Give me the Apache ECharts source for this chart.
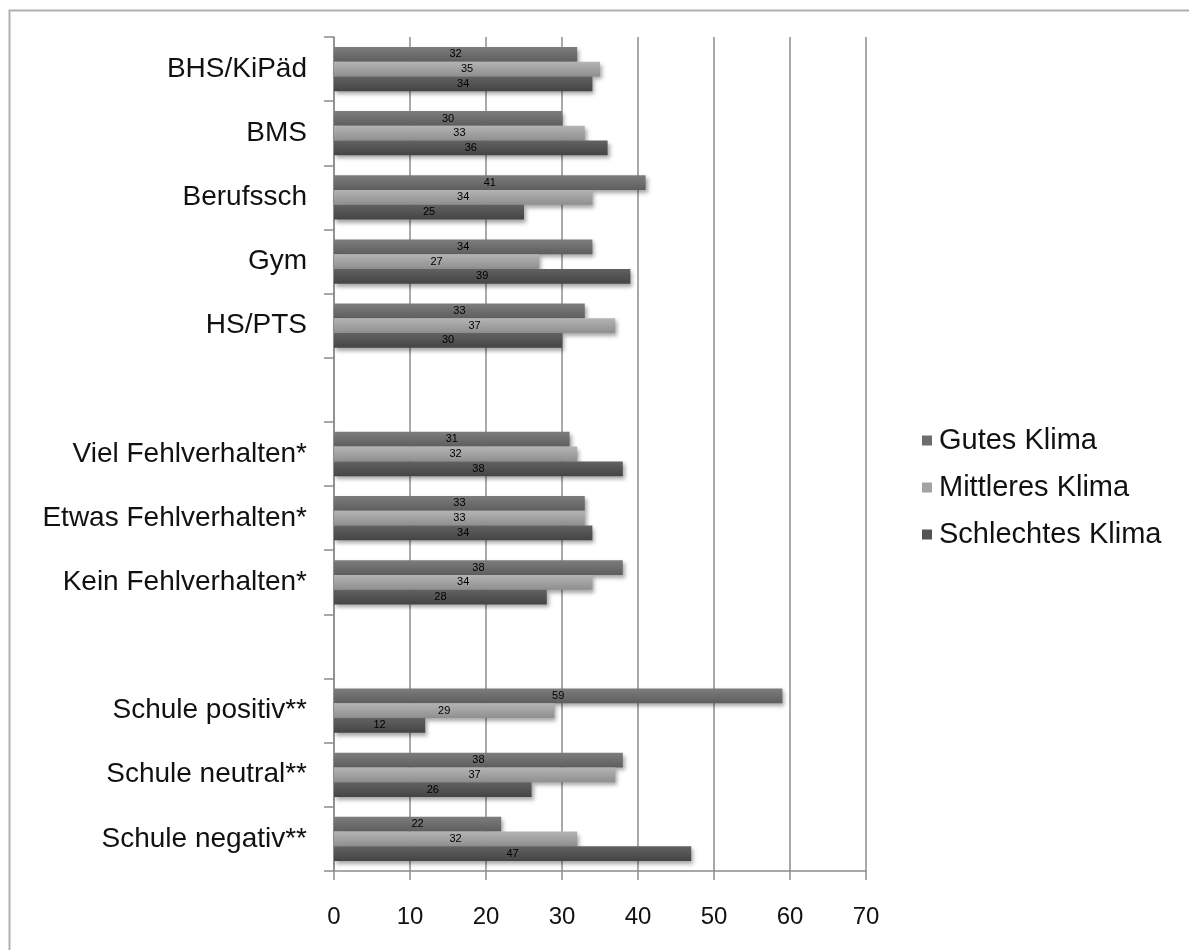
<!DOCTYPE html>
<html>
<head>
<meta charset="utf-8">
<script src="https://cdn.jsdelivr.net/npm/echarts@6/dist/echarts.min.js"></script>
<style>
  html, body { margin: 0; padding: 0; background: #ffffff; }
  #chart { width: 1189px; height: 950px; }
</style>
</head>
<body>
<div id="chart"></div>
<script>
// Categories (top to bottom); empty strings are spacer rows between the groups
const categories = [
  'BHS/KiPäd', 'BMS', 'Berufssch', 'Gym', 'HS/PTS', '',
  'Viel Fehlverhalten*', 'Etwas Fehlverhalten*', 'Kein Fehlverhalten*', '',
  'Schule positiv**', 'Schule neutral**', 'Schule negativ**'
];

// Percent values per climate group
const gutesKlima       = [32, 30, 41, 34, 33, null, 31, 33, 38, null, 59, 38, 22];
const mittleresKlima   = [35, 33, 34, 27, 37, null, 32, 33, 34, null, 29, 37, 32];
const schlechtesKlima  = [34, 36, 25, 39, 30, null, 38, 34, 28, null, 12, 26, 47];

const seriesNames = ['Gutes Klima', 'Mittleres Klima', 'Schlechtes Klima'];
const xTicks = { min: 0, max: 70, step: 10 };

const FONT = '"Liberation Sans", Arial, sans-serif';

function shade(top, bottom) {
  return new echarts.graphic.LinearGradient(0, 0, 0, 1, [
    { offset: 0, color: top },
    { offset: 1, color: bottom }
  ]);
}

const palette = [
  { bar: shade('#7d7d7d', '#5e5e5e'), icon: '#6d6d6d' },
  { bar: shade('#b4b4b4', '#8f8f8f'), icon: '#a3a3a3' },
  { bar: shade('#626262', '#444444'), icon: '#545454' }
];

function makeSeries(name, values, idx) {
  return {
    name: name,
    type: 'bar',
    data: values,
    barGap: '0%',
    barCategoryGap: '31%',
    itemStyle: {
      color: palette[idx].bar,
      shadowColor: 'rgba(0,0,0,0.35)',
      shadowBlur: 4,
      shadowOffsetX: 2,
      shadowOffsetY: 3
    },
    label: {
      show: true,
      position: 'inside',
      color: '#000000',
      fontFamily: FONT,
      fontSize: 11,
      formatter: p => (p.value == null ? '' : String(p.value))
    },
    emphasis: { disabled: true }
  };
}

const chart = echarts.init(document.getElementById('chart'), null, { renderer: 'canvas' });

chart.setOption({
  animation: false,
  backgroundColor: '#ffffff',
  color: palette.map(p => p.icon),
  textStyle: { fontFamily: FONT },
  graphic: [{
    type: 'rect',
    left: 7, top: 8,
    shape: { x: 0, y: 0, width: 1200, height: 1000 },
    style: { fill: 'none', stroke: '#b0b0b0', lineWidth: 2 },
    silent: true
  }],
  legend: {
    orient: 'vertical',
    left: 917,
    top: 421,
    itemWidth: 10,
    itemHeight: 10,
    itemGap: 18,
    icon: 'rect',
    data: seriesNames.map((n, i) => ({ name: n, itemStyle: { color: palette[i].icon } })),
    textStyle: { fontFamily: FONT, fontSize: 29, color: '#111111', lineHeight: 29, padding: [0, 0, 0, 2] }
  },
  grid: { left: 334, right: 323, top: 37, bottom: 79, containLabel: false },
  xAxis: {
    type: 'value',
    min: xTicks.min,
    max: xTicks.max,
    interval: xTicks.step,
    axisLine: { show: true, lineStyle: { color: '#8c8c8c', width: 1.5 } },
    axisTick: { show: true, length: 9, lineStyle: { color: '#8c8c8c', width: 1.5 } },
    splitLine: { show: true, lineStyle: { color: '#8c8c8c', width: 1.5 } },
    axisLabel: { fontFamily: FONT, fontSize: 24, color: '#111111', margin: 34 }
  },
  yAxis: {
    type: 'category',
    inverse: true,
    data: categories,
    axisLine: { show: true, lineStyle: { color: '#8c8c8c', width: 1.5 } },
    axisTick: { show: true, length: 10, alignWithLabel: false, lineStyle: { color: '#8c8c8c', width: 1.5 } },
    axisLabel: { fontFamily: FONT, fontSize: 28, color: '#111111', margin: 27 }
  },
  series: [
    makeSeries(seriesNames[0], gutesKlima, 0),
    makeSeries(seriesNames[1], mittleresKlima, 1),
    makeSeries(seriesNames[2], schlechtesKlima, 2)
  ]
});
</script>
</body>
</html>
